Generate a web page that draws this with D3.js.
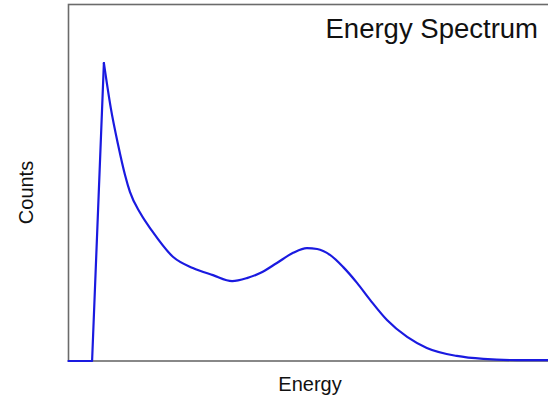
<!DOCTYPE html>
<html>
<head>
<meta charset="utf-8">
<script src="https://cdn.jsdelivr.net/npm/d3@7"></script>
<style>
  html, body { margin: 0; padding: 0; background: #fff; overflow: hidden; }
  svg { display: block; }
  text { font-family: "Liberation Sans", Arial, sans-serif; fill: #111; }
</style>
</head>
<body>
<svg id="chart" width="548" height="396"></svg>
<script>
// Spectrum samples: energy (channel units) and counts per channel
const energy = [0, 48, 72, 86, 101, 115, 125, 146, 170, 213, 253, 294, 333, 363, 390, 424, 457, 485, 506, 532, 559, 587, 614, 648, 689, 729, 790, 844, 913, 976, 1000];
const counts = [0, 0, 1003, 852, 727, 626, 569, 498, 438, 350, 313, 289, 269, 279, 296, 330, 364, 380, 377, 357, 316, 263, 205, 138, 81, 44, 17, 7, 3, 3, 3];

const title = "Energy Spectrum";
const xLabel = "Energy";
const yLabel = "Counts";

const svg = d3.select("#chart");
const margin = { left: 68.5, top: 4.5, bottom: 35 };
const W = 548, H = 396;

const x = d3.scaleLinear().domain([0, 1000]).range([margin.left, 560]);
const y = d3.scaleLinear().domain([0, 1200]).range([H - margin.bottom, margin.top]);

const data = energy.map((e, i) => ({ e, c: counts[i] }));
const peakIdx = counts.indexOf(d3.max(counts));

// Plot frame (extends past the right edge)
svg.append("rect")
  .attr("x", x(0)).attr("y", y(1200))
  .attr("width", 620 - x(0)).attr("height", y(0) - y(1200))
  .attr("fill", "none").attr("stroke", "#6b6b6b").attr("stroke-width", 1.6);

// Spectrum trace: sharp rise to the peak, smooth tail after it
const trace = svg.append("g")
  .attr("fill", "none")
  .attr("stroke", "#1a1ae0")
  .attr("stroke-width", 2.2)
  .attr("stroke-linejoin", "round")
  .attr("stroke-linecap", "round");

trace.append("path")
  .datum(data.slice(0, peakIdx + 1))
  .attr("d", d3.line().x(d => x(d.e)).y(d => y(d.c)));

trace.append("path")
  .datum(data.slice(peakIdx))
  .attr("d", d3.line().curve(d3.curveMonotoneX).x(d => x(d.e)).y(d => y(d.c)));

// Title
svg.append("text")
  .attr("x", 538).attr("y", 38)
  .attr("text-anchor", "end")
  .style("font-size", "27.5px")
  .text(title);

// Axis labels
svg.append("text")
  .attr("x", 310).attr("y", 391)
  .attr("text-anchor", "middle")
  .style("font-size", "20px")
  .text(xLabel);

svg.append("text")
  .attr("transform", "translate(33,192.5) rotate(-90)")
  .attr("text-anchor", "middle")
  .style("font-size", "20px")
  .text(yLabel);
</script>
</body>
</html>
